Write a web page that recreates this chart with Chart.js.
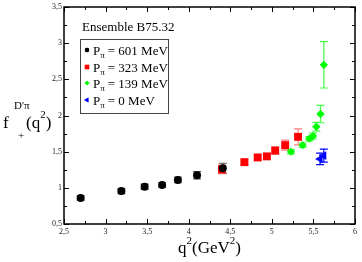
<!DOCTYPE html>
<html>
<head>
<meta charset="utf-8">
<script src="https://cdn.jsdelivr.net/npm/chart.js@4/dist/chart.umd.min.js"></script>
<style>
  html, body { margin: 0; padding: 0; background: #fff; }
  #wrap { width: 362px; height: 262px; }
</style>
</head>
<body>
<div id="wrap"><canvas id="chart" width="362" height="262"></canvas></div>
<script>
// datos
const blackX = [2.70, 3.19, 3.47, 3.68, 3.87, 4.10, 4.41];
const blackY = [0.86, 0.955, 1.015, 1.04, 1.11, 1.175, 1.27];
const blackErr = [0.03, 0.035, 0.035, 0.03, 0.04, 0.05, 0.07];

const redX = [4.40, 4.67, 4.83, 4.94, 5.04, 5.16, 5.315];
const redY = [1.255, 1.355, 1.42, 1.435, 1.515, 1.59, 1.705];
const redErr = [0.06, 0.03, 0.035, 0.035, 0.05, 0.07, 0.11];

const greenX = [5.23, 5.37, 5.45, 5.495, 5.535, 5.585, 5.625];
const greenY = [1.50, 1.59, 1.68, 1.715, 1.845, 2.02, 2.70];
const greenErr = [0.03, 0.03, 0.03, 0.04, 0.06, 0.12, 0.32];

const blueX = [5.58, 5.625];
const blueY = [1.40, 1.445];
const blueErr = [0.08, 0.09];

const momenta = ['601', '323', '139', '0'];
const ensemble = 'Ensemble B75.32';

const serif = "'Liberation Serif', 'DejaVu Serif', serif";

function puntos(xs, ys) {
    return xs.map((x, i) => ({ x: x, y: ys[i] }));
}

const series = [
    { x: blackX, y: blackY, err: blackErr, color: '#000000', bar: '#555555', style: 'circle', r: 4, rot: 0 },
    { x: redX, y: redY, err: redErr, color: '#ff0000', bar: '#ff8080', style: 'rect', r: 5.6, rot: 0 },
    { x: greenX, y: greenY, err: greenErr, color: '#00ff00', bar: '#44ff44', style: 'rectRot', r: 4.2, rot: 0 },
    { x: blueX, y: blueY, err: blueErr, color: '#0000ff', bar: '#0000ff', style: 'triangle', r: 5, rot: -90 }
];

// barras de error (debajo de los puntos)
const errorBars = {
    id: 'errorBars',
    beforeDatasetsDraw(chart) {
        const ctx = chart.ctx;
        const xs = chart.scales.x, ys = chart.scales.y;
        ctx.save();
        ctx.lineWidth = 1.2;
        series.forEach(s => {
            ctx.strokeStyle = s.bar;
            s.x.forEach((xv, i) => {
                const px = xs.getPixelForValue(xv);
                const top = ys.getPixelForValue(s.y[i] + s.err[i]);
                const bot = ys.getPixelForValue(s.y[i] - s.err[i]);
                ctx.beginPath();
                ctx.moveTo(px, top); ctx.lineTo(px, bot);
                ctx.moveTo(px - 4, top); ctx.lineTo(px + 4, top);
                ctx.moveTo(px - 4, bot); ctx.lineTo(px + 4, bot);
                ctx.stroke();
            });
        });
        ctx.restore();
    }
};

// marco, marcas interiores, titulos y leyenda
const decor = {
    id: 'decor',
    afterDraw(chart) {
        const ctx = chart.ctx;
        const a = chart.chartArea;
        const xs = chart.scales.x, ys = chart.scales.y;
        ctx.save();
        ctx.strokeStyle = '#000';
        ctx.lineWidth = 1.5;
        ctx.strokeRect(a.left, a.top, a.right - a.left, a.bottom - a.top);

        ctx.lineWidth = 1;
        ctx.beginPath();
        for (let v = 2.5; v <= 6.001; v += 0.25) {
            const p = Math.round(xs.getPixelForValue(v)) + 0.5;
            const len = (Math.abs(v * 2 - Math.round(v * 2)) < 1e-6) ? 5 : 3;
            ctx.moveTo(p, a.bottom); ctx.lineTo(p, a.bottom - len);
            ctx.moveTo(p, a.top); ctx.lineTo(p, a.top + len);
        }
        for (let v = 0.5; v <= 3.501; v += 0.25) {
            const p = Math.round(ys.getPixelForValue(v)) + 0.5;
            const len = (Math.abs(v * 2 - Math.round(v * 2)) < 1e-6) ? 5 : 3;
            ctx.moveTo(a.left, p); ctx.lineTo(a.left + len, p);
            ctx.moveTo(a.right, p); ctx.lineTo(a.right - len, p);
        }
        ctx.stroke();

        ctx.fillStyle = '#000';
        ctx.textBaseline = 'alphabetic';
        ctx.textAlign = 'left';

        // titulo eje x: q^2(GeV^2)
        const big = '17px ' + serif, small = '11px ' + serif;
        const partes = [['q', big, 0], ['2', small, -9], ['(GeV', big, 0], ['2', small, -9], [')', big, 0]];
        let total = 0;
        partes.forEach(p => { ctx.font = p[1]; total += ctx.measureText(p[0]).width; });
        let cx = (a.left + a.right) / 2 - total / 2;
        partes.forEach(p => {
            ctx.font = p[1];
            ctx.fillText(p[0], cx, 253 + p[2]);
            cx += ctx.measureText(p[0]).width;
        });

        // titulo eje y: f_+^{D'pi}(q^2)
        ctx.font = big;
        ctx.fillText('f', 3, 128);
        ctx.font = small;
        ctx.fillText("D'\u03c0", 14, 109);
        ctx.fillText('+', 18, 139);
        ctx.font = big;
        ctx.fillText('(q', 26, 128);
        let w = ctx.measureText('(q').width;
        ctx.font = small;
        ctx.fillText('2', 26 + w, 118);
        let w2 = ctx.measureText('2').width;
        ctx.font = big;
        ctx.fillText(')', 26 + w + w2, 128);

        // leyenda
        ctx.font = '13px ' + serif;
        ctx.fillText(ensemble, 82, 31);
        ctx.lineWidth = 1;
        ctx.strokeStyle = '#444';
        ctx.strokeRect(80.5, 39.5, 88, 74);
        const filas = [50, 67, 83, 100];
        series.forEach((s, i) => {
            const yy = filas[i];
            ctx.fillStyle = s.color;
            ctx.beginPath();
            Chart.helpers.drawPoint(ctx, {
                pointStyle: s.style, radius: s.r * 0.55, rotation: s.rot, borderWidth: 0
            }, 87, yy);
            ctx.fill();
            ctx.fillStyle = '#000';
            ctx.font = '13px ' + serif;
            ctx.fillText('P', 93, yy + 5);
            let px = 93 + ctx.measureText('P').width;
            ctx.font = '9px ' + serif;
            ctx.fillText('\u03c0', px, yy + 8);
            px += ctx.measureText('\u03c0').width + 3;
            ctx.font = '13px ' + serif;
            ctx.fillText('= ' + momenta[i] + ' MeV', px, yy + 5);
        });
        ctx.restore();
    }
};

const ctx = document.getElementById('chart').getContext('2d');
new Chart(ctx, {
    type: 'scatter',
    data: {
        datasets: series.map((s, i) => ({
            label: 'P = ' + momenta[i] + ' MeV',
            data: puntos(s.x, s.y),
            pointStyle: s.style,
            pointRadius: s.r,
            pointRotation: s.rot,
            pointBackgroundColor: s.color,
            pointBorderColor: s.color,
            pointBorderWidth: 0,
            showLine: false
        }))
    },
    options: {
        responsive: false,
        animation: false,
        layout: { padding: { top: 7, right: 7, left: 0, bottom: 0 } },
        plugins: { legend: { display: false }, tooltip: { enabled: false } },
        scales: {
            x: {
                type: 'linear', min: 2.5, max: 6,
                grid: { display: false, drawTicks: false },
                border: { display: false },
                ticks: {
                    stepSize: 0.5, padding: 3, color: '#222',
                    font: { family: serif, size: 8 },
                    maxRotation: 0,
                    callback: v => String(v).replace('.', ',')
                },
                afterFit: scale => { scale.height = 38; }
            },
            y: {
                type: 'linear', min: 0.5, max: 3.5,
                grid: { display: false, drawTicks: false },
                border: { display: false },
                ticks: {
                    stepSize: 0.5, padding: 2, color: '#222',
                    font: { family: serif, size: 8 },
                    callback: v => String(v).replace('.', ',')
                },
                afterFit: scale => { scale.width = 64; }
            }
        }
    },
    plugins: [errorBars, decor]
});
</script>
</body>
</html>
